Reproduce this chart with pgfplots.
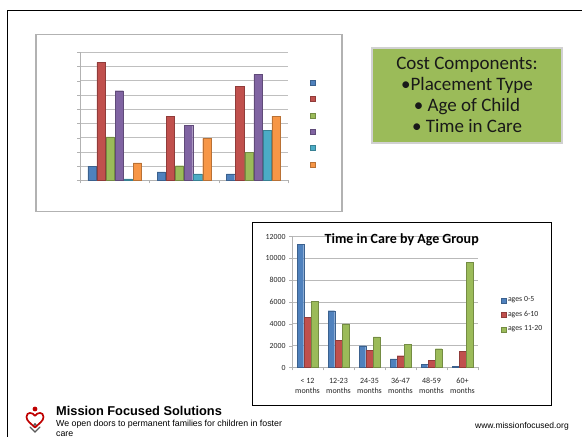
\documentclass[border=0pt]{standalone}
\usepackage{fontspec}
\setmainfont{Carlito}
\newfontfamily\arial{Liberation Sans}
\usepackage{pgfplots}
\pgfplotsset{compat=1.18}
\definecolor{cBlue}{HTML}{4F81BD}
\definecolor{cRed}{HTML}{C0504D}
\definecolor{cGreen}{HTML}{9BBB59}
\definecolor{cPurple}{HTML}{8064A2}
\definecolor{cAqua}{HTML}{4BACC6}
\definecolor{cOrange}{HTML}{F79646}
\definecolor{boxGreen}{HTML}{9BBB59}
\pgfplotsset{
  sqlegend/.style={legend image code/.code={\fill[##1] (0pt,-2.5pt) rectangle (5pt,2.5pt);}},
  barstyle/.style={fill=#1, draw=#1!75!black, line width=0.3pt},
}
\begin{document}
\begin{tikzpicture}
\path[use as bounding box] (0pt,0pt) rectangle (582pt,437pt);
% slide frame
\draw[black, line width=1.3pt] (7.5pt,-2pt) -- (7.5pt,426.5pt) -- (584pt,426.5pt);

% ---------- upper chart ----------
\draw[gray!60, line width=1.3pt, fill=white] (36pt,402.5pt) rectangle (342pt,225.3pt);
\begin{axis}[at={(80pt,256.7pt)}, anchor=south west, scale only axis,
  width=208pt, height=128pt,
  ybar=0.9pt, bar width=8.2pt,
  xmin=-0.5, xmax=2.5, ymin=0, ymax=9,
  ytick={0,...,9}, yticklabels={},
  xtick={0,1,2}, xticklabels={},
  major x tick style={draw=none},
  minor xtick={-0.5,0.5,1.5,2.5},
  ymajorgrids, grid style={gray!50, line width=0.7pt},
  axis x line*=bottom, axis y line*=left,
  axis line style={gray!60}, tick style={gray!60},
  tick align=outside, major tick length=3pt, minor tick length=3pt,
  every axis plot/.append style={sqlegend},
  legend style={at={(1.1034,0.8297)}, anchor=north west, draw=none, fill=none,
    inner sep=0pt, row sep=0pt, nodes={inner sep=0pt, minimum height=16.4pt, font=\tiny}},
  clip=false]
\addplot[barstyle=cBlue]   coordinates {(0,1.0) (1,0.6) (2,0.45)};
\addplot[barstyle=cRed]    coordinates {(0,8.3) (1,4.5) (2,6.6)};
\addplot[barstyle=cGreen]  coordinates {(0,3.05) (1,1.03) (2,1.95)};
\addplot[barstyle=cPurple] coordinates {(0,6.3) (1,3.85) (2,7.45)};
\addplot[barstyle=cAqua]   coordinates {(0,0.1) (1,0.45) (2,3.5)};
\addplot[barstyle=cOrange] coordinates {(0,1.22) (1,2.95) (2,4.52)};
\addlegendentry{\phantom{x}}
\addlegendentry{\phantom{x}}
\addlegendentry{\phantom{x}}
\addlegendentry{\phantom{x}}
\addlegendentry{\phantom{x}}
\addlegendentry{\phantom{x}}
\end{axis}

% ---------- green box ----------
\draw[black!18, line width=1.6pt, fill=boxGreen] (372pt,389pt) rectangle (562pt,294pt);
\begin{scope}[every node/.style={anchor=base, inner sep=0pt, text=black!90, font=\fontsize{19}{21}\selectfont}]
\node at (467pt,367pt) {Cost Components:};
\node at (467pt,346pt) {•Placement Type};
\node at (467pt,325pt) {• Age of Child};
\node at (467pt,304pt) {• Time in Care};
\end{scope}

% ---------- lower chart ----------
\draw[black, line width=0.8pt, fill=white] (252pt,215pt) rectangle (551pt,32pt);
\begin{axis}[at={(292pt,69.5pt)}, anchor=south west, scale only axis,
  width=186pt, height=131pt,
  ybar=0.5pt, bar width=6.6pt,
  xmin=-0.5, xmax=5.5, ymin=0, ymax=12000,
  ytick={0,2000,...,12000}, scaled y ticks=false,
  /pgf/number format/assume math mode=true,
  /pgf/number format/set thousands separator={},
  yticklabel style={font=\fontsize{7.8}{9}\selectfont, text=black!85},
  xtick={0,...,5},
  xticklabels={{< 12\\months},{12-23\\months},{24-35\\months},{36-47\\months},{48-59\\months},{60+\\months}},
  xticklabel style={align=center, font=\fontsize{8}{10}\selectfont, text=black!85, yshift=-4.5pt},
  major x tick style={draw=none},
  minor xtick={-0.5,0.5,...,5.5},
  ymajorgrids, grid style={gray!55, line width=0.7pt},
  axis x line*=bottom, axis y line*=left,
  axis line style={gray!60}, tick style={gray!60},
  tick align=outside, major tick length=3pt, minor tick length=3pt,
  every axis plot/.append style={sqlegend},
  legend style={at={(1.1237,0.5706)}, anchor=north west, draw=none, fill=none,
    inner sep=0pt, row sep=0pt,
    nodes={inner xsep=1.5pt, inner ysep=0pt, minimum height=14.5pt, font=\fontsize{7.8}{9}\selectfont, text=black!85}},
  legend cell align=left,
  clip=false]
\addplot[barstyle=cBlue]  coordinates {(0,11300) (1,5200) (2,2000) (3,780) (4,280) (5,130)};
\addplot[barstyle=cRed]   coordinates {(0,4600) (1,2500) (2,1570) (3,1080) (4,680) (5,1480)};
\addplot[barstyle=cGreen] coordinates {(0,6080) (1,4000) (2,2800) (3,2100) (4,1720) (5,9650)};
\legend{ages 0-5, ages 6-10, ages 11-20}
\end{axis}
\node[anchor=base, inner sep=0pt, font=\bfseries\fontsize{14}{16}\selectfont] at (401.7pt,193.7pt) {Time in Care by Age Group};

% ---------- footer ----------
\begin{scope}[x=1pt,y=1pt]
\fill[red!75!black] (35,28) circle (2.4);
\draw[red!75!black, line width=1.7pt, line join=round]
  (35,21) .. controls (33,25) and (26.5,25.5) .. (26.5,20)
  .. controls (26.5,16) and (31,13.5) .. (35,9.5)
  .. controls (39,13.5) and (43.5,16) .. (43.5,20)
  .. controls (43.5,25.5) and (37,25) .. (35,21);
\draw[gray!70!black, line width=1.4pt, line cap=round] (30,10) -- (35,5) -- (40,10);
\fill[gray!70!black] (35,12.5) circle (1.6);
\end{scope}
\node[anchor=base west, inner sep=0pt, font=\arial\bfseries\fontsize{12.8}{14}\selectfont] at (56pt,21.5pt) {Mission Focused Solutions};
\node[anchor=base west, inner sep=0pt, font=\arial\fontsize{8.8}{10}\selectfont] at (56pt,10pt) {We open doors to permanent families for children in foster};
\node[anchor=base west, inner sep=0pt, font=\arial\fontsize{8.8}{10}\selectfont] at (56pt,0.8pt) {care};
\node[anchor=base west, inner sep=0pt, font=\arial\fontsize{8.5}{10}\selectfont] at (475pt,8pt) {www.missionfocused.org};
\end{tikzpicture}
\end{document}
